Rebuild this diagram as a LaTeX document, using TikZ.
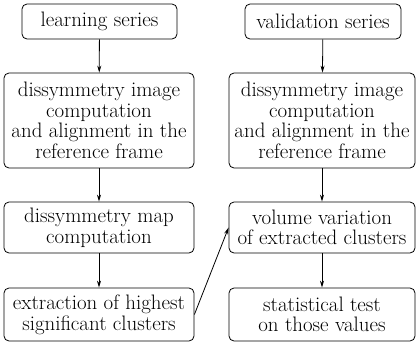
\documentclass[tikz,border=0pt]{standalone}
\usetikzlibrary{arrows.meta}
\begin{document}
\begin{tikzpicture}[x=1bp,y=-1bp,
  box/.style={draw,line width=0.8bp,rounded corners=5bp,align=center,inner sep=0pt,
    font=\rmfamily\fontsize{21}{20.7}\selectfont},
  arr/.style={-{Stealth[length=7bp,width=4bp]},line width=0.8bp}]
\useasboundingbox (0,0) rectangle (416,345);
\node[box,minimum width=155bp,minimum height=35bp] (l1) at (99.5,21.5) {learning series};
\node[box,minimum width=190bp,minimum height=95bp] (l2) at (99,120.5) {dissymmetry image\\computation\\and alignment in the\\reference frame};
\node[box,minimum width=190bp,minimum height=51bp] (l3) at (99,227.5) {dissymmetry map\\computation};
\node[box,minimum width=190bp,minimum height=53bp] (l4) at (99,314.5) {extraction of highest\\significant clusters};
\node[box,minimum width=156bp,minimum height=35bp] (r1) at (323,21.5) {validation series};
\node[box,minimum width=186bp,minimum height=95bp] (r2) at (322,120.5) {dissymmetry image\\computation\\and alignment in the\\reference frame};
\node[box,minimum width=186bp,minimum height=51bp] (r3) at (322,227.5) {volume variation\\of extracted clusters};
\node[box,minimum width=186bp,minimum height=53bp] (r4) at (322,314.5) {statistical test\\on those values};
\draw[arr] (l1) -- (l2);
\draw[arr] (l2) -- (l3);
\draw[arr] (l3) -- (l4);
\draw[arr] (r1) -- (r2);
\draw[arr] (r2) -- (r3);
\draw[arr] (r3) -- (r4);
\draw[arr] (l4.east) -- (r3.west);
\end{tikzpicture}
\end{document}
